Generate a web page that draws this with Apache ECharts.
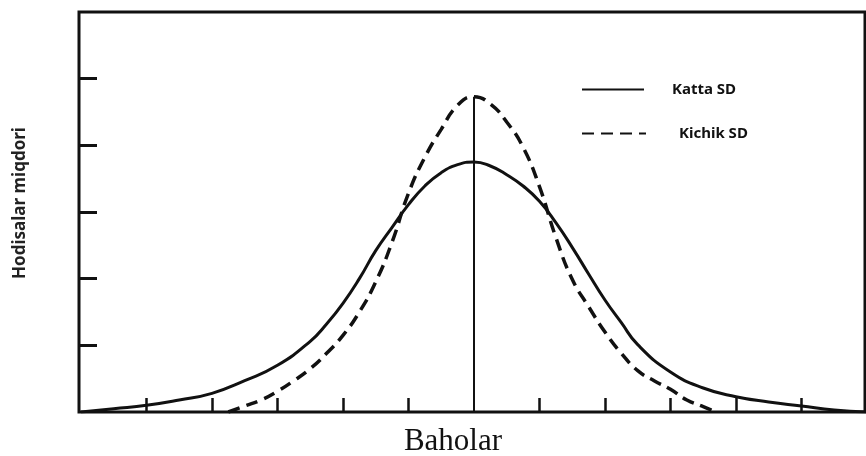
<!DOCTYPE html>
<html>
<head>
<meta charset="utf-8">
<title>Baholar</title>
<script src="https://cdn.jsdelivr.net/npm/echarts@6/dist/echarts.min.js"></script>
<style>
  html, body { margin: 0; padding: 0; background: #fff; }
  #chart { width: 866px; height: 456px; }
</style>
</head>
<body>
<div id="chart"></div>
<script>
// Katta SD (katta standart chetlanish) - yassi egri chiziq
const kattaX = [-6, -5.5, -5, -4.5, -4, -3.5, -3, -2.5, -2.25, -2, -1.75, -1.5, -1.25, -1, -0.75, -0.5, -0.25, 0,
  0.25, 0.5, 0.75, 1, 1.25, 1.5, 1.75, 2, 2.25, 2.5, 3, 3.5, 4, 4.5, 5, 5.5, 6];
const kattaY = [0, 0.05, 0.1, 0.18, 0.28, 0.47, 0.7, 1.06, 1.32, 1.63, 2.0, 2.42, 2.77, 3.11, 3.39, 3.59, 3.71, 3.75,
  3.69, 3.56, 3.39, 3.16, 2.84, 2.47, 2.07, 1.68, 1.34, 1.01, 0.6, 0.36, 0.23, 0.15, 0.09, 0.03, 0];

// Kichik SD - tik egri chiziq
const kichikX = [-3.75, -3.5, -3.25, -3, -2.75, -2.5, -2.25, -2, -1.75, -1.5, -1.25, -1, -0.75, -0.5, -0.25, 0,
  0.25, 0.5, 0.75, 1, 1.25, 1.5, 1.75, 2, 2.25, 2.5, 2.75, 3, 3.25, 3.5, 3.7];
const kichikY = [0, 0.09, 0.18, 0.31, 0.47, 0.65, 0.88, 1.15, 1.5, 1.95, 2.55, 3.28, 3.82, 4.24, 4.6, 4.73,
  4.62, 4.35, 3.97, 3.38, 2.62, 1.99, 1.58, 1.2, 0.88, 0.62, 0.47, 0.34, 0.18, 0.08, 0];

// o'q belgilari (yozuvsiz)
const xTicks = [-5, -4, -3, -2, -1, 1, 2, 3, 4, 5];
const yTicks = [1, 2, 3, 4, 5];

const seriesNames = ['Katta SD', 'Kichik SD'];
const axisNames = { x: 'Baholar', y: 'Hodisalar miqdori' };

const zip = (xs, ys) => xs.map((x, i) => [x, ys[i]]);
const ink = '#111';

const legendText = { color: ink, fontSize: 15, fontWeight: 'bold', fontFamily: 'Noto Sans' };

const chart = echarts.init(document.getElementById('chart'), null, { renderer: 'canvas' });
chart.setOption({
  animation: false,
  backgroundColor: '#fff',
  grid: {
    left: 79,
    right: 1,
    top: 12,
    bottom: 44,
    outerBoundsMode: 'none',
    show: true,
    borderColor: ink,
    borderWidth: 3
  },
  legend: [
    {
      data: [seriesNames[0]],
      left: 576,
      top: 77,
      itemWidth: 62,
      itemHeight: 14,
      itemStyle: { opacity: 0 },
      textStyle: Object.assign({}, legendText, { padding: [0, 0, 0, 23] })
    },
    {
      data: [seriesNames[1]],
      left: 576,
      top: 121,
      itemWidth: 64,
      itemHeight: 14,
      itemStyle: { opacity: 0 },
      textStyle: Object.assign({}, legendText, { padding: [0, 0, 0, 28] })
    }
  ],
  xAxis: {
    type: 'value',
    min: -6.03,
    max: 5.97,
    name: axisNames.x,
    nameLocation: 'middle',
    nameGap: 14,
    nameTextStyle: { color: ink, fontSize: 31, fontFamily: 'Liberation Serif', padding: [0, 38, 0, 0], verticalAlign: 'top' },
    axisLine: { show: false },
    axisTick: { show: true, inside: true, length: 14, customValues: xTicks, lineStyle: { color: ink, width: 2.5 } },
    axisLabel: { show: false },
    splitLine: { show: false }
  },
  yAxis: {
    type: 'value',
    min: 0,
    max: 6,
    name: axisNames.y,
    nameLocation: 'middle',
    nameRotate: 90,
    nameGap: 50,
    nameTextStyle: { color: '#222', fontSize: 17, fontWeight: 'bold', fontFamily: 'Noto Sans', padding: [0, 0, 0, 18] },
    axisLine: { show: false, onZero: false },
    axisTick: { show: true, inside: true, length: 18, customValues: yTicks, lineStyle: { color: ink, width: 3 } },
    axisLabel: { show: false },
    splitLine: { show: false }
  },
  series: [
    {
      name: seriesNames[0],
      type: 'line',
      smooth: 0.5,
      symbol: 'none',
      color: ink,
      lineStyle: { color: ink, width: 3 },
      data: zip(kattaX, kattaY)
    },
    {
      name: seriesNames[1],
      type: 'line',
      smooth: 0.5,
      symbol: 'none',
      color: ink,
      lineStyle: { color: ink, width: 3.5, type: [12, 7] },
      data: zip(kichikX, kichikY),
      // markaziy vertikal chiziq (o'rtacha qiymat)
      markLine: {
        silent: true,
        symbol: 'none',
        label: { show: false },
        lineStyle: { color: ink, width: 2, type: 'solid' },
        data: [[{ coord: [0, 0] }, { coord: [0, Math.max(...kichikY)] }]]
      }
    }
  ]
});
</script>
</body>
</html>
